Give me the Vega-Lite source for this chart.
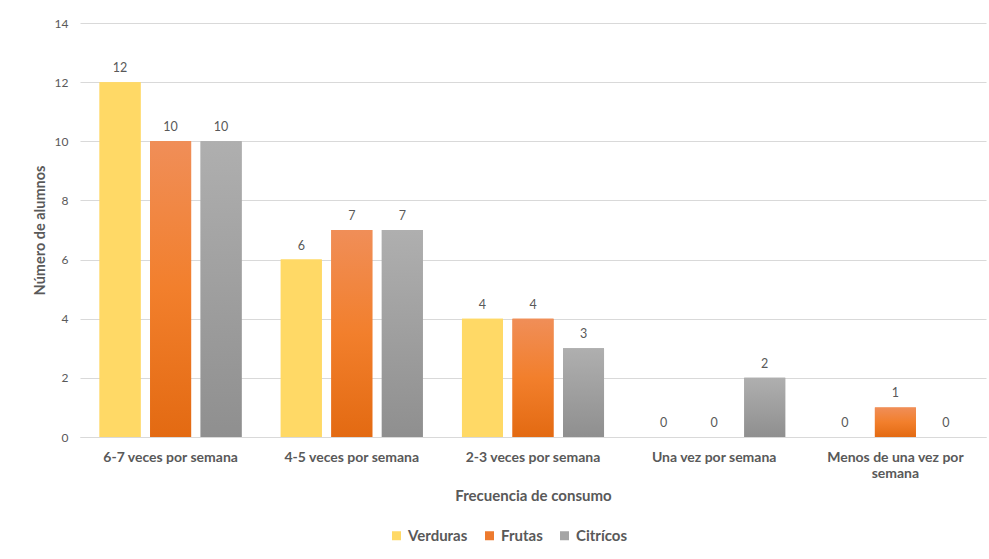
{
  "$schema": "https://vega.github.io/schema/vega-lite/v6.json",
  "width": 906,
  "height": 414,
  "autosize": {"type": "none"},
  "padding": {"left": 80, "top": 23, "right": 3, "bottom": 122},
  "background": "white",
  "config": {"view": {"stroke": null}, "font": "Lato"},
  "data": {
    "values": [
      {"frecuencia": "6-7 veces por semana", "serie": "Verduras", "alumnos": 12},
      {"frecuencia": "6-7 veces por semana", "serie": "Frutas", "alumnos": 10},
      {"frecuencia": "6-7 veces por semana", "serie": "Citrícos", "alumnos": 10},
      {"frecuencia": "4-5 veces por semana", "serie": "Verduras", "alumnos": 6},
      {"frecuencia": "4-5 veces por semana", "serie": "Frutas", "alumnos": 7},
      {"frecuencia": "4-5 veces por semana", "serie": "Citrícos", "alumnos": 7},
      {"frecuencia": "2-3 veces por semana", "serie": "Verduras", "alumnos": 4},
      {"frecuencia": "2-3 veces por semana", "serie": "Frutas", "alumnos": 4},
      {"frecuencia": "2-3 veces por semana", "serie": "Citrícos", "alumnos": 3},
      {"frecuencia": "Una vez por semana", "serie": "Verduras", "alumnos": 0},
      {"frecuencia": "Una vez por semana", "serie": "Frutas", "alumnos": 0},
      {"frecuencia": "Una vez por semana", "serie": "Citrícos", "alumnos": 2},
      {"frecuencia": "Menos de una vez por semana", "serie": "Verduras", "alumnos": 0},
      {"frecuencia": "Menos de una vez por semana", "serie": "Frutas", "alumnos": 1},
      {"frecuencia": "Menos de una vez por semana", "serie": "Citrícos", "alumnos": 0}
    ]
  },
  "encoding": {
    "x": {
      "field": "frecuencia",
      "type": "nominal",
      "sort": ["6-7 veces por semana", "4-5 veces por semana", "2-3 veces por semana", "Una vez por semana", "Menos de una vez por semana"],
      "scale": {"paddingInner": 0.216, "paddingOuter": 0.108},
      "axis": {
        "labelAngle": 0,
        "domain": true,
        "domainColor": "#D9D9D9",
        "domainWidth": 1,
        "ticks": false,
        "grid": false,
        "labelFontWeight": "bold",
        "labelFontSize": 14,
        "labelColor": "#595959",
        "labelPadding": 13,
        "labelLimit": 300,
        "labelLineHeight": 16,
        "labelExpr": "datum.label == 'Menos de una vez por semana' ? ['Menos de una vez por', 'semana'] : datum.label",
        "title": "Frecuencia de consumo",
        "titleFontSize": 15,
        "titleFontWeight": "bold",
        "titleColor": "#595959",
        "titleBaseline": "middle",
        "titleY": 58
      }
    },
    "xOffset": {
      "field": "serie",
      "type": "nominal",
      "sort": ["Verduras", "Frutas", "Citrícos"],
      "scale": {"paddingInner": 0.188, "paddingOuter": 0}
    },
    "y": {
      "field": "alumnos",
      "type": "quantitative",
      "scale": {"domain": [0, 14], "nice": false},
      "axis": {
        "values": [0, 2, 4, 6, 8, 10, 12, 14],
        "domain": false,
        "ticks": false,
        "grid": true,
        "gridColor": "#D9D9D9",
        "gridWidth": 1,
        "labelColor": "#595959",
        "labelFontSize": 12,
        "labelPadding": 12,
        "title": "Número de alumnos",
        "titleFontSize": 14.5,
        "titleFontWeight": "bold",
        "titleColor": "#595959",
        "titlePadding": 7
      }
    }
  },
  "layer": [
    {
      "mark": {"type": "bar"},
      "encoding": {
        "color": {
          "field": "serie",
          "type": "nominal",
          "sort": ["Verduras", "Frutas", "Citrícos"],
          "scale": {"domain": ["Verduras", "Frutas", "Citrícos"], "range": ["#FFD966", "#ED7A2E", "#A5A5A5"]},
          "legend": {
            "title": null,
            "orient": "none",
            "direction": "horizontal",
            "legendX": 309,
            "legendY": 505,
            "symbolType": "square",
            "symbolSize": 81,
            "symbolStrokeWidth": 0,
            "labelFontSize": 15,
            "labelFontWeight": "bold",
            "labelColor": "#595959",
            "labelOffset": 4,
            "columnPadding": 14
          }
        }
      }
    },
    {
      "mark": {"type": "bar"},
      "encoding": {
        "fill": {
          "condition": [
            {
              "test": "datum.serie === 'Frutas'",
              "value": {"gradient": "linear", "x1": 0, "y1": 0, "x2": 0, "y2": 1,
                "stops": [{"offset": 0, "color": "#F08E58"}, {"offset": 0.5, "color": "#F27F2C"}, {"offset": 1, "color": "#E36A12"}]}
            },
            {
              "test": "datum.serie === 'Citrícos'",
              "value": {"gradient": "linear", "x1": 0, "y1": 0, "x2": 0, "y2": 1,
                "stops": [{"offset": 0, "color": "#AFAFAF"}, {"offset": 1, "color": "#8F8F8F"}]}
            }
          ],
          "value": "#FFD966"
        }
      }
    },
    {
      "mark": {"type": "text", "baseline": "bottom", "dy": -7, "fontSize": 12.5, "color": "#595959"},
      "encoding": {
        "text": {"field": "alumnos", "type": "quantitative"}
      }
    }
  ]
}
